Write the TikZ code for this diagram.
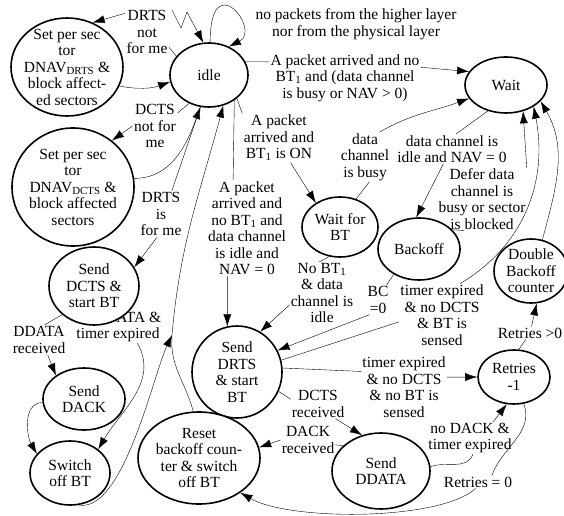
\documentclass[tikz,border=0pt]{standalone}
\usepackage{fontspec}
\setmainfont{Liberation Serif}
\usetikzlibrary{shapes.geometric,arrows.meta,backgrounds}

\begin{document}
\begin{tikzpicture}[x=1pt,y=1pt,line width=1.4pt,
  >={Latex[length=12pt,width=8pt]},
  state/.style={ellipse,draw,line width=1.6pt,fill=white,inner sep=-8pt,align=center,
    font=\fontsize{15.5}{16.5}\selectfont},
  lbl/.style={inner sep=1pt,align=center,font=\fontsize{15.5}{16.5}\selectfont}]
  \useasboundingbox (0,0) rectangle (564,515);
  % states
  \node[state,minimum width=78pt,minimum height=64pt] (idle) at (209,440) {idle};
  \node[state,minimum width=112pt,minimum height=98pt] (sDRTS) at (67,448)
    {Set per sec\\tor\\DNAV\textsubscript{DRTS} \&\\block affect-\\ed sectors};
  \node[state,minimum width=122pt,minimum height=118pt] (sDCTS) at (73,328)
    {Set per sec\\tor\\DNAV\textsubscript{DCTS} \&\\block affected\\sectors};
  \node[state,minimum width=90pt,minimum height=78pt] (sendDCTS) at (94,229) {Send\\DCTS \&\\start BT};
  \node[state,minimum width=82pt,minimum height=62pt] (sendDACK) at (84,116) {Send\\DACK};
  \node[state,minimum width=80pt,minimum height=64pt] (switchBT) at (70,42) {Switch\\off BT};
  \node[state,minimum width=82pt,minimum height=56pt] (wait) at (506,430) {Wait};
  \node[state,minimum width=76pt,minimum height=60pt] (waitBT) at (340,288) {Wait for\\BT};
  \node[state,minimum width=82pt,minimum height=62pt] (backoff) at (419,266) {Backoff};
  \node[state,minimum width=74pt,minimum height=64pt] (dbl) at (531,244) {Double\\Backoff\\counter};
  \node[state,minimum width=90pt,minimum height=92pt] (sendDRTS) at (237,143) {Send\\DRTS\\\& start\\BT};
  \node[state,minimum width=122pt,minimum height=92pt] (reset) at (199,57)
    {Reset\\backoff coun-\\ter \& switch\\off BT};
  \node[state,minimum width=98pt,minimum height=76pt] (sendDDATA) at (381,44) {Send\\DDATA};
  \node[state,minimum width=72pt,minimum height=54pt] (retries) at (514,138) {Retries\\-1};
  \coordinate (mrg) at (172,180);

  % labels
  \node[lbl] (lnopkt) at (356,491) {no packets from the higher layer\\nor from the physical layer};
  \node[lbl] (lDRTSnot) at (147,483) {DRTS\\not\\for me};
  \node[lbl] (lDCTSnot) at (155,389) {DCTS\\not for\\me};
  \node[lbl] (lnoBT) at (345,437) {A packet arrived and no\\BT\textsubscript{1} and (data channel\\is busy or NAV > 0)};
  \node[lbl] (lBTon) at (279,377) {A packet\\arrived and\\BT\textsubscript{1} is ON};
  \node[lbl] (lidleNAV) at (247,287) {A packet\\arrived and\\no BT\textsubscript{1} and\\data channel\\is idle and\\NAV = 0};
  \node[lbl] (lDRTSfor) at (161,301) {DRTS\\is\\for me};
  \node[lbl] (lDDATArec) at (39,175) {DDATA\\received};
  \begin{pgfonlayer}{background}
    \node[lbl] (lnoDDATA) at (118,188) {no DDATA \&\\timer expired};
  \end{pgfonlayer}
  \node[lbl] (lbusy) at (365,358) {data\\channel\\is busy};
  \node[lbl] (lidle0) at (452,366) {data channel is\\idle and NAV = 0};
  \node[lbl] (ldefer) at (482,316) {Defer data\\channel is\\busy or sector\\is blocked};
  \node[lbl] (lnoBT1) at (322,222) {No BT\textsubscript{1}\\\& data\\channel is\\idle};
  \node[lbl] (lBC) at (378,215) {BC\\=0};
  \node[lbl] (ltimerBT) at (442,200) {timer expired\\\& no DCTS\\\& BT is\\sensed};
  \node[lbl] (ltimernoBT) at (404,128) {timer expired\\\& no DCTS\\\& no BT is\\sensed};
  \node[lbl] (lretriesgt) at (530,182) {Retries >0};
  \node[lbl] (lDCTSrec) at (318,111) {DCTS\\received};
  \node[lbl] (lDACKrec) at (308,75) {DACK\\received};
  \node[lbl] (lnoDACK) at (470,77) {no DACK \&\\timer expired};
  \node[lbl] (lretries0) at (478,33) {Retries = 0};

  % idle
  \draw[->] (172,505) -- (181,487) -- (187,503) -- (idle.100);
  \draw[->] (idle.88) .. controls (210,550) and (262,485) .. (idle.55);
  \draw[->] (idle.150) -- (lDRTSnot.-35) (lDRTSnot.140) -- (sDRTS.60);
  \draw[->] (sDRTS.-20) to[bend right=15] (idle.190);
  \draw[->] (idle.235) -- (lDCTSnot.30) (lDCTSnot.180) -- (sDCTS.50);
  \draw[->] (sDCTS.8) to[out=0,in=-110] (idle.255);
  \draw[->] (idle.255) -- (lDRTSfor.65) (lDRTSfor.-100) -- (sendDCTS.25);
  \draw[->] (idle.20) -- (lnoBT.168) (lnoBT.8) -- (wait.160);
  \draw[->] (idle.-40) -- (lBTon.north west) (lBTon.-65) -- (waitBT.135);
  \draw[->] (idle.-45) -- (lidleNAV.106) (lidleNAV.-112) -- (sendDRTS.102);
  % receiver side
  \draw[->] (sendDCTS.222) -- (lDDATArec.70) (lDDATArec.-60) -- (sendDACK.140);
  \draw[->] (lnoDDATA.-40) to[out=-60,in=60] (switchBT.40);
  \draw[->] (sendDACK.185) to[out=180,in=120] (switchBT.150);
  \draw[->] (switchBT.-75) to[out=-10,in=-115,looseness=0.6] (mrg);
  \draw[->] (reset.97) to[out=105,in=-95] (mrg) to[out=85,in=-105] (idle.-65);
  % sender side
  \draw[->] (waitBT.60) -- (lbusy.-80) (lbusy.60) to[out=30,in=200] (wait.200);
  \draw[->] (waitBT.-110) -- (lnoBT1.95) (lnoBT1.200) -- (sendDRTS.60);
  \draw[->] (wait.235) -- (lidle0.75) (lidle0.-120) -- (backoff.95);
  \draw[->] (backoff.30) -- (ldefer.-120) (ldefer.north east) -- (wait.-57);
  \draw[->] (backoff.-135) -- (lBC.60) (lBC.-120) -- (sendDRTS.28);
  \draw[->] (sendDRTS.15) -- (ltimerBT.189) (ltimerBT.60) .. controls (525,270) and (548,335) .. (wait.-38);
  \draw[->] (sendDRTS.5) -- (ltimernoBT.160) (ltimernoBT.13) -- (retries.180);
  \draw[->] (dbl.70) to[out=75,in=-60] (wait.-25);
  \draw[->] (retries.80) -- (lretriesgt) -- (dbl.-80);
  \draw[->] (sendDRTS.-25) -- (lDCTSrec.170) (lDCTSrec.-40) -- (sendDDATA.118);
  \draw[->] (sendDDATA.146) -- (lDACKrec.-10) (lDACKrec.180) -- (reset.10);
  \draw[->] (sendDDATA.5) to[out=20,in=-110] (lnoDACK.-80) (lnoDACK.35) -- (retries.-105);
  \draw[->] (retries.-70) to[out=-70,in=70] (lretries0.25)
    (lretries0.-110) .. controls (440,-6) and (290,-6) .. (reset.-40);
\end{tikzpicture}
\end{document}
